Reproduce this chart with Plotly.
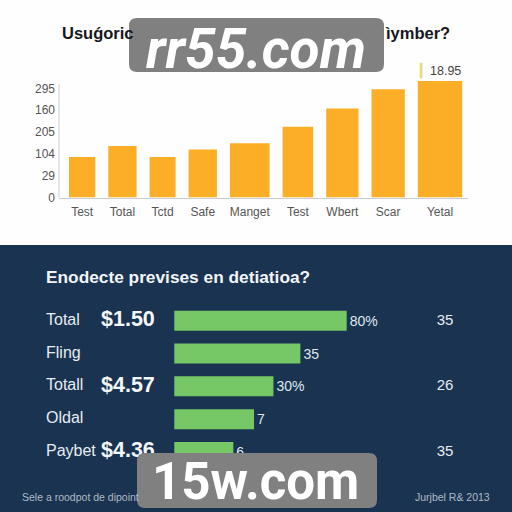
import numpy as np
import plotly.graph_objects as go

# ---- data ----
top_categories = ["Test", "Total", "Tctd", "Safe", "Manget", "Test", "Wbert", "Scar", "Yetal"]
top_values = [93, 118, 93, 110, 124, 162, 204, 248, 267]
top_bar_widths = [26.3, 28.3, 26, 28.3, 39.7, 30.6, 32.3, 33.3, 44.4]
top_peak_label = "<span style='color:#e6dc7a'>▎</span>18.95"
y_tickvals = [0, 50, 100, 150, 200, 250]
y_ticktext = ["0", "29", "104", "205", "160", "295"]

bottom_categories = ["Total", "Fling", "Totall", "Oldal", "Paybet"]
bottom_values = [80, 58.5, 46, 37, 27.4]
bottom_bar_labels = ["80%", "35", "30%", "7", "6"]
bottom_prices = ["$1.50", "", "$4.57", "", "$4.36"]
bottom_right = ["35", "", "26", "", "35"]

FONT = "Liberation Sans"
W = 512
GAP = 13.0
NAVY = "#1a3350"
ORANGE = "#fdae27"
GREEN = "#76c765"
Y_TOP = 274      # top of the value range, leaves room for the tallest bar
Y_LINE_TOP = 260 # where the drawn axis line stops
PX_PER_Y = 113.5 / 260


def py(v):
    return 1 - v / W


lefts = np.concatenate([[0], np.cumsum(np.array(top_bar_widths) + GAP)[:-1]])
centers = lefts + np.array(top_bar_widths) / 2

fig = go.Figure()
fig.add_trace(go.Bar(
    x=centers, y=top_values, width=top_bar_widths, marker=dict(color=ORANGE, line_width=0),
    xaxis="x", yaxis="y", showlegend=False,
))
fig.add_trace(go.Bar(
    x=bottom_values, y=bottom_categories, orientation="h", width=0.61,
    marker=dict(color=GREEN, line_width=0),
    text=bottom_bar_labels, textposition="outside", cliponaxis=False, constraintext="none",
    textfont=dict(family=FONT, size=14, color="#dfe8ee"),
    xaxis="x2", yaxis="y2", showlegend=False,
))

px_per_unit = 172.4 / 80
LEFT_PX = 174.3
x2_range = [-LEFT_PX / px_per_unit, (W - LEFT_PX) / px_per_unit]


def to_x2(px):
    return (px - LEFT_PX) / px_per_unit


fig.add_trace(go.Scatter(
    x=[to_x2(46)] * 5, y=bottom_categories, mode="text", text=bottom_categories,
    textposition="middle right", textfont=dict(family=FONT, size=16, color="#e6edf2"),
    xaxis="x2", yaxis="y2", showlegend=False, cliponaxis=False,
))
fig.add_trace(go.Scatter(
    x=[to_x2(101)] * 5, y=bottom_categories, mode="text", text=bottom_prices,
    textposition="middle right",
    textfont=dict(family=FONT, size=21.5, color="#f4f7f9", weight="bold"),
    xaxis="x2", yaxis="y2", showlegend=False, cliponaxis=False,
))
fig.add_trace(go.Scatter(
    x=[to_x2(445)] * 5, y=bottom_categories, mode="text", text=bottom_right,
    textposition="middle center", textfont=dict(family=FONT, size=15, color="#e6edf2"),
    xaxis="x2", yaxis="y2", showlegend=False, cliponaxis=False,
))


def rounded(x0, y0, x1, y1, r):
    return (f"M {x0+r} {y0} L {x1-r} {y0} Q {x1} {y0} {x1} {y0+r} L {x1} {y1-r} Q {x1} {y1} {x1-r} {y1} "
            f"L {x0+r} {y1} Q {x0} {y1} {x0} {y1-r} L {x0} {y0+r} Q {x0} {y0} {x0+r} {y0} Z")


def note(x, y, text, size, color, anchor="left", family=FONT, **font):
    return dict(x=x / W, y=py(y), xref="paper", yref="paper", text=text, showarrow=False,
                xanchor=anchor, yanchor="middle", font=dict(family=family, size=size, color=color, **font))


fig.update_layout(
    width=512, height=512, margin=dict(l=0, r=0, t=0, b=0, autoexpand=False), autosize=False,
    paper_bgcolor="#fefefe", plot_bgcolor="rgba(0,0,0,0)", barmode="overlay",
    xaxis=dict(domain=[59 / W, 468 / W], range=[-10, 399], tickvals=centers, ticktext=top_categories,
               showgrid=False, zeroline=False, showline=True, linecolor="#c9cdd2", linewidth=1, automargin=False,
               ticks="", tickfont=dict(family=FONT, size=12, color="#555555"), ticklabelstandoff=3, anchor="y"),
    yaxis=dict(domain=[py(197.5), py(197.5 - Y_TOP * PX_PER_Y)], range=[0, Y_TOP], tickvals=y_tickvals,
               ticktext=y_ticktext, showgrid=False, zeroline=False, showline=False, automargin=False,
               ticks="", tickfont=dict(family=FONT, size=12, color="#555555"), ticklabelstandoff=3, anchor="x"),
    xaxis2=dict(domain=[0, 1], range=x2_range, visible=False, anchor="y2", automargin=False),
    yaxis2=dict(domain=[py(468.3), py(304.4)], range=[4.5, -0.5], type="category", visible=False, anchor="x2", automargin=False),
    shapes=[
        dict(type="rect", xref="paper", yref="paper", x0=0, x1=1, y0=0, y1=py(245),
             fillcolor=NAVY, line_width=0, layer="below"),
        dict(type="line", xref="x domain", yref="y", x0=0, x1=0, y0=0, y1=Y_LINE_TOP,
             line=dict(color="#c9cdd2", width=1), layer="below"),
    ],
    annotations=[
        note(60, 33, "<b>Usuǵoric</b>", 16.5, "#15181c"),
        note(452, 33, "<b>ìymber?</b>", 16.5, "#15181c", anchor="right"),
        note(44, 277, "<b>Enodecte previses en detiatioa?</b>", 17.3, "#f2f5f8"),
        note(20, 497, "Sele a roodpot de dipoint", 10.5, "#aebbc6"),
        note(492, 497, "Jurjbel R& 2013", 10.5, "#aebbc6", anchor="right"),
        dict(x=centers[-1], y=top_values[-1], xref="x", yref="y", text=top_peak_label, showarrow=False,
             xanchor="center", yanchor="bottom", font=dict(family=FONT, size=12.5, color="#444444")),
        note(256, 49, "rr55.com", 55, "#ffffff", anchor="center", family="Roboto", weight="bold", style="italic"),
        note(255, 481, "15w.com", 51, "#ffffff", anchor="center", family="Roboto", weight="bold"),
    ],
)
for (x0, y0, x1, y1) in [(129, 18, 384, 72), (137, 453, 377, 508)]:
    fig.add_shape(type="path", xref="paper", yref="paper", layer="above", line_width=0,
                  fillcolor="#808080",
                  path=rounded(x0 / W, py(y1), x1 / W, py(y0), 8 / W))

fig.write_html("out.html", config=dict(displayModeBar=False),
               post_script="document.documentElement.style.margin='0';document.body.style.margin='0';document.body.style.overflow='hidden';")
